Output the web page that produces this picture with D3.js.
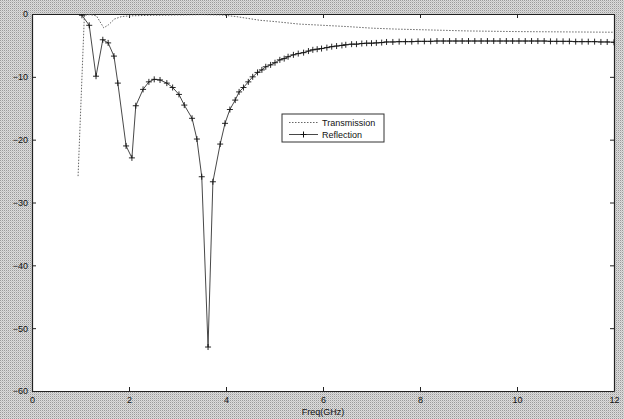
<!DOCTYPE html>
<html><head><meta charset="utf-8">
<script src="https://cdn.jsdelivr.net/npm/d3@7"></script>
<style>body{margin:0;background:#fff}svg{display:block}</style>
</head><body>
<svg id="c" width="624" height="419"></svg>
<script>
const xTicks = [0, 2, 4, 6, 8, 10, 12];
const yTicks = [0, -10, -20, -30, -40, -50, -60];
const seriesNames = ["Transmission", "Reflection"];

const reflFreq = [1.03,1.18,1.32,1.46,1.57,1.69,1.77,1.94,2.06,2.14,2.29,2.41,2.52,2.64,2.78,2.90,3.03,3.14,3.30,3.40,3.50,3.63,3.73,3.88,3.98,
4.08,4.19,4.27,4.36,4.46,4.55,4.65,4.74,4.82,4.92,5.01,5.11,5.20,5.28,5.39,5.49,5.60,5.70,5.79,5.88,5.97,6.08,6.18,6.28,6.39,6.47,6.59,6.69,6.80,6.90,7.00,7.10,7.21,7.31,
7.44,7.57,7.70,7.83,7.96,8.09,8.22,8.35,8.48,8.61,8.74,8.87,9.00,9.13,9.26,9.39,9.52,9.65,9.78,9.91,10.04,10.17,10.30,10.43,10.56,10.69,10.82,10.95,11.08,11.21,11.34,11.47,11.60,11.73,11.86,12.0];
const reflDb = [-0.2,-1.8,-9.9,-4.1,-4.6,-6.7,-11.0,-21.0,-22.9,-14.6,-12.0,-10.8,-10.4,-10.5,-11.0,-11.7,-12.8,-14.5,-16.6,-19.9,-25.9,-53.0,-26.7,-20.7,-17.4,
-15.2,-13.7,-12.4,-11.7,-10.8,-10.0,-9.3,-8.9,-8.4,-8.1,-7.75,-7.3,-7.1,-6.8,-6.5,-6.3,-6.15,-5.9,-5.7,-5.6,-5.5,-5.35,-5.2,-5.1,-5.0,-4.9,-4.8,-4.8,-4.7,-4.65,-4.65,-4.6,-4.55,-4.45,
-4.45,-4.4,-4.4,-4.4,-4.35,-4.35,-4.35,-4.3,-4.3,-4.3,-4.3,-4.3,-4.3,-4.3,-4.3,-4.3,-4.3,-4.3,-4.3,-4.3,-4.3,-4.3,-4.3,-4.3,-4.3,-4.35,-4.35,-4.35,-4.35,-4.4,-4.4,-4.4,-4.4,-4.45,-4.45,-4.5];

const transFreq = [0.95,1.08,1.20,1.33,1.40,1.48,1.58,1.70,1.85,2.0,2.5,3.0,3.5,3.9,4.2,4.7,5.0,5.5,6.0,6.5,7.0,7.5,8.0,8.5,9.0,9.5,10.0,11.0,12.0];
const transDb = [-25.8,-0.2,-0.1,-0.3,-1.2,-2.2,-1.7,-0.8,-0.4,-0.3,-0.2,-0.15,-0.1,-0.15,-0.4,-1.0,-1.2,-1.6,-1.8,-2.0,-2.25,-2.4,-2.5,-2.6,-2.7,-2.75,-2.8,-2.85,-2.9];

const W = 624, H = 419;
const m = {l: 32, r: 10, t: 14, b: 28};
const svg = d3.select("#c");

// halftone-like gray background
const defs = svg.append("defs");
const pat = defs.append("pattern").attr("id","ht").attr("width",2).attr("height",2).attr("patternUnits","userSpaceOnUse");
pat.append("rect").attr("width",2).attr("height",2).attr("fill","#dcdcdc");
pat.append("rect").attr("width",1).attr("height",1).attr("fill","#9a9a9a");
pat.append("rect").attr("x",1).attr("y",1).attr("width",1).attr("height",1).attr("fill","#c4c4c4");
svg.append("rect").attr("width",W).attr("height",H).attr("fill","url(#ht)");

const x = d3.scaleLinear().domain([0, 12]).range([m.l, W - m.r]);
const y = d3.scaleLinear().domain([-60, 0]).range([H - m.b, m.t]);

svg.append("rect").attr("x", x(0)).attr("y", y(0)).attr("width", x(12) - x(0)).attr("height", y(-60) - y(0))
  .attr("fill", "#fff");

defs.append("clipPath").attr("id","clip").append("rect")
  .attr("x", x(0)).attr("y", y(0)).attr("width", x(12) - x(0)).attr("height", y(-60) - y(0));

const tickLen = 4;
const axB = svg.append("g").attr("transform", `translate(0,${y(-60)})`)
  .call(d3.axisBottom(x).tickValues(xTicks).tickSizeInner(-tickLen).tickSizeOuter(0).tickPadding(4));
const axT = svg.append("g").attr("transform", `translate(0,${y(0)})`)
  .call(d3.axisTop(x).tickValues(xTicks).tickSizeInner(-tickLen).tickSizeOuter(0).tickFormat(""));
const axL = svg.append("g").attr("transform", `translate(${x(0)},0)`)
  .call(d3.axisLeft(y).tickValues(yTicks).tickSizeInner(-tickLen).tickSizeOuter(0).tickPadding(4));
const axR = svg.append("g").attr("transform", `translate(${x(12)},0)`)
  .call(d3.axisRight(y).tickValues(yTicks).tickSizeInner(-tickLen).tickSizeOuter(0).tickFormat(""));
[axB, axT, axL, axR].forEach(g => {
  g.select(".domain").attr("stroke", "#222").attr("stroke-width", 1.2);
  g.selectAll(".tick line").attr("stroke", "#222");
  g.selectAll("text").attr("font-family", "Liberation Sans, Arial, sans-serif").attr("font-size", 9).attr("fill", "#111");
});
axB.selectAll("text").attr("dy", "0.85em");

const plot = svg.append("g").attr("clip-path", "url(#clip)");
const line = d3.line().x(d => x(d[0])).y(d => y(d[1]));

const trans = transFreq.map((f, i) => [f, transDb[i]]);
const refl = reflFreq.map((f, i) => [f, reflDb[i]]);

plot.append("path").datum(trans).attr("d", line).attr("fill", "none")
  .attr("stroke", "#666").attr("stroke-width", 1).attr("stroke-dasharray", "1.5,1.5");
plot.append("path").datum(refl).attr("d", line).attr("fill", "none")
  .attr("stroke", "#333").attr("stroke-width", 0.9);
const ms = 3;
plot.selectAll("path.mk").data(refl).join("path").attr("class","mk")
  .attr("d", d => `M${x(d[0]) - ms},${y(d[1])}H${x(d[0]) + ms}M${x(d[0])},${y(d[1]) - ms}V${y(d[1]) + ms}`)
  .attr("stroke", "#111").attr("stroke-width", 0.9);

// legend
const lg = svg.append("g");
lg.append("rect").attr("x", 282).attr("y", 114).attr("width", 102).attr("height", 28)
  .attr("fill", "#fff").attr("stroke", "#333").attr("stroke-width", 1);
lg.append("line").attr("x1", 289).attr("x2", 318).attr("y1", 122.5).attr("y2", 122.5)
  .attr("stroke", "#666").attr("stroke-dasharray", "1.5,1.5");
lg.append("line").attr("x1", 289).attr("x2", 318).attr("y1", 134.5).attr("y2", 134.5)
  .attr("stroke", "#333").attr("stroke-width", 0.9);
lg.append("path").attr("d", `M${303.5 - ms},134.5H${303.5 + ms}M303.5,${134.5 - ms}V${134.5 + ms}`)
  .attr("stroke", "#111");
lg.selectAll("text.lt").data(seriesNames).join("text").attr("class","lt")
  .attr("x", 322).attr("y", (d, i) => 125.5 + i * 12)
  .attr("font-family", "Liberation Sans, Arial, sans-serif").attr("font-size", 9).attr("fill", "#111")
  .text(d => d);

svg.append("text").attr("x", (x(0) + x(12)) / 2).attr("y", 415).attr("text-anchor", "middle")
  .attr("font-family", "Liberation Sans, Arial, sans-serif").attr("font-size", 9).attr("fill", "#111")
  .text("Freq(GHz)");
</script>
</body></html>
